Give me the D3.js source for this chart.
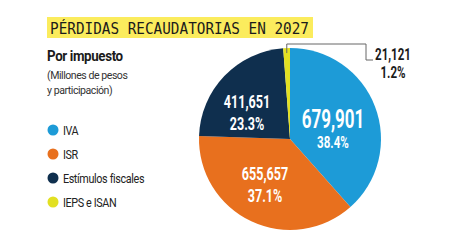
<!DOCTYPE html>
<html>
<head>
<meta charset="utf-8">
<script src="https://cdn.jsdelivr.net/npm/d3@7.9.0/dist/d3.min.js"></script>
<style>
  body { margin: 0; background: #fff; }
  svg { display: block; }
</style>
</head>
<body>
<div id="vis"></div>
<script>
const width = 449, height = 252;

const categories = ["IVA", "ISR", "Estímulos fiscales", "IEPS e ISAN"];
const values = [679901, 655657, 411651, 21121];
const shares = ["38.4%", "37.1%", "23.3%", "1.2%"];
const colors = ["#1d9bd7", "#e8701e", "#0f2f4e", "#e2e022"];

const svg = d3.select("#vis").append("svg")
    .attr("width", width)
    .attr("height", height)
    .attr("viewBox", `0 0 ${width} ${height}`);

// title band
svg.append("rect")
    .attr("x", 47).attr("y", 17)
    .attr("width", 266).attr("height", 21)
    .attr("fill", "#fbec5d");
svg.append("text")
    .attr("x", 50).attr("y", 34)
    .attr("font-family", "'DejaVu Sans Mono', monospace")
    .attr("font-size", 15)
    .attr("textLength", 259)
    .attr("lengthAdjust", "spacingAndGlyphs")
    .attr("fill", "#1b1b1b")
    .text("PÉRDIDAS RECAUDATORIAS EN 2027");

// legend (slightly condensed)
const lg = svg.append("g").attr("transform", "translate(47,0) scale(0.92,1)");
lg.append("text")
    .attr("x", 0).attr("y", 61)
    .attr("font-family", "Roboto, sans-serif")
    .attr("font-weight", 700)
    .attr("font-size", 14.5)
    .attr("letter-spacing", -0.4)
    .attr("fill", "#1b1b1b")
    .text("Por impuesto");

lg.append("g")
    .selectAll("text")
    .data(["(Millones de pesos", "y participación)"])
    .join("text")
    .attr("x", 0)
    .attr("y", (d, i) => 79 + i * 15)
    .attr("font-family", "Roboto, sans-serif")
    .attr("font-size", 11.5)
    .attr("letter-spacing", -0.5)
    .attr("fill", "#333")
    .text(d => d);

const ly = d3.scalePoint().domain(categories).range([130, 202]);

const legend = svg.append("g")
    .selectAll("g")
    .data(categories)
    .join("g")
    .attr("transform", d => `translate(53,${ly(d)})`);
legend.append("circle")
    .attr("r", 5.5)
    .attr("fill", (d, i) => colors[i]);
legend.append("text")
    .attr("x", 10).attr("y", 4.5)
    .attr("transform", "scale(0.9,1)")
    .attr("dx", 1)
    .attr("font-family", "Roboto, sans-serif")
    .attr("font-size", 12)
    .attr("letter-spacing", -0.4)
    .attr("fill", "#222")
    .text(d => d);

// pie
const cx = 290, cy = 139, r = 91;
const pie = d3.pie().sort(null).value(d => d.value);
const arcs = pie(categories.map((c, i) => ({ name: c, value: values[i], share: shares[i], color: colors[i] })));
const arc = d3.arc().innerRadius(0).outerRadius(r);

const g = svg.append("g").attr("transform", `translate(${cx},${cy})`);
g.selectAll("path")
    .data(arcs)
    .join("path")
    .attr("d", arc)
    .attr("fill", d => d.data.color);

// inside label offsets from the pie centre
const labelPos = [
  { x: 43, y: -11, s1: 25, s2: 17, gap: 20 },
  { x: -25, y: 41, s1: 18.5, s2: 18.5, gap: 22 },
  { x: -43, y: -31, s1: 18.5, s2: 18.5, gap: 22 }
];
const fmt = d3.format(",");
const sx = 0.68;

arcs.slice(0, 3).forEach((d, i) => {
  const p = labelPos[i];
  const t = g.append("g").attr("transform", `translate(${p.x},${p.y})`);
  t.append("text")
      .attr("text-anchor", "middle")
      .attr("transform", `scale(${sx},1)`)
      .attr("font-family", "Roboto, sans-serif")
      .attr("font-weight", 700)
      .attr("font-size", p.s1)
      .attr("fill", "#fff")
      .text(fmt(d.data.value));
  t.append("text")
      .attr("text-anchor", "middle")
      .attr("transform", `translate(0,${p.gap}) scale(${sx},1)`)
      .attr("font-family", "Roboto, sans-serif")
      .attr("font-weight", 700)
      .attr("font-size", p.s2)
      .attr("fill", "#fff")
      .text(d.data.share);
});

// outside label for the small slice
const small = arcs[3];
const mid = (small.startAngle + small.endAngle) / 2;
const px = cx + Math.sin(mid) * (r - 5);
const py = cy - Math.cos(mid) * (r - 5);
svg.append("path")
    .attr("d", `M${px},${py} V44 H366 V60 H373`)
    .attr("fill", "none")
    .attr("stroke", "#666")
    .attr("stroke-width", 1);

const ot = svg.append("g").attr("transform", "translate(393,60)");
ot.append("text")
    .attr("text-anchor", "middle")
    .attr("transform", `scale(${sx},1)`)
    .attr("font-family", "Roboto, sans-serif")
    .attr("font-weight", 700)
    .attr("font-size", 17)
    .attr("fill", "#1b1b1b")
    .text(fmt(small.data.value));
ot.append("text")
    .attr("text-anchor", "middle")
    .attr("transform", `translate(0,18) scale(${sx},1)`)
    .attr("font-family", "Roboto, sans-serif")
    .attr("font-weight", 700)
    .attr("font-size", 17)
    .attr("fill", "#1b1b1b")
    .text(small.data.share);
</script>
</body>
</html>
